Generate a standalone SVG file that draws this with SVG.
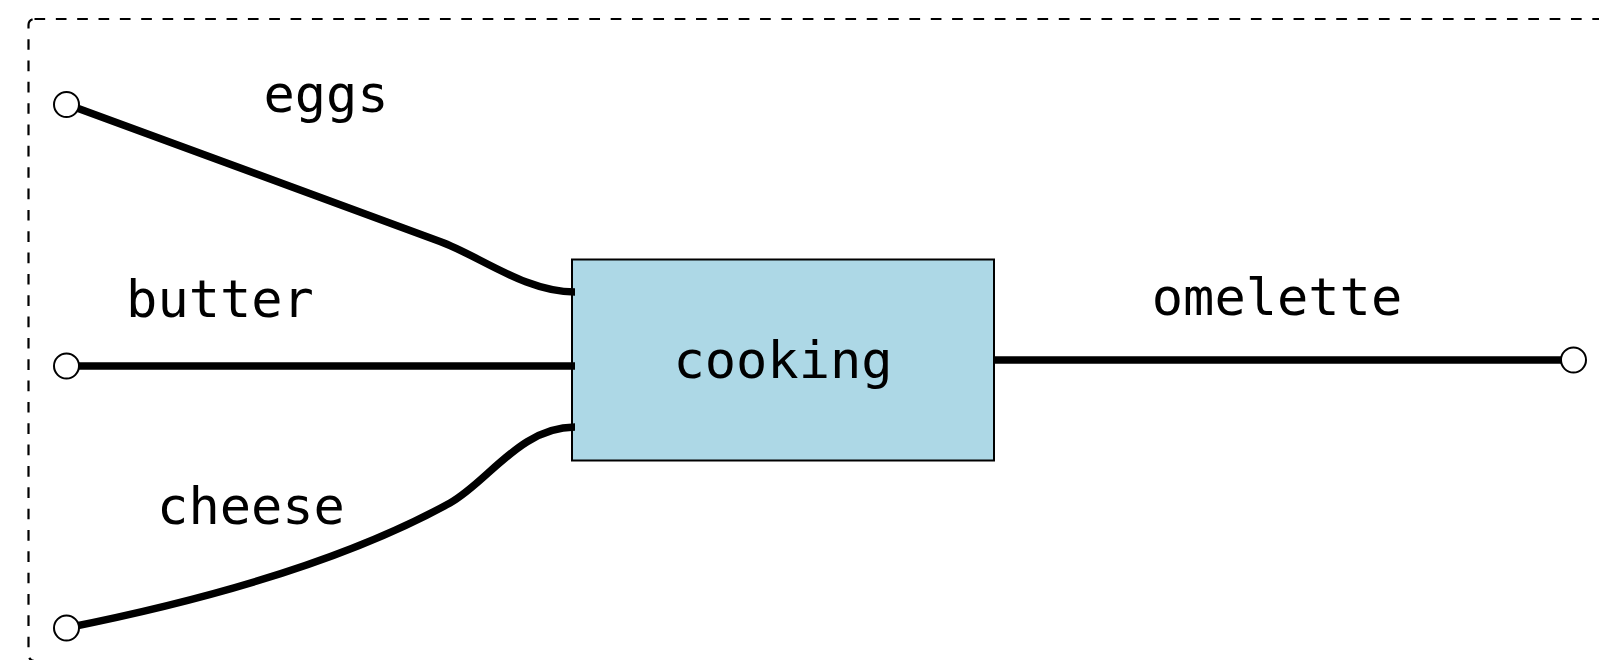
<svg xmlns="http://www.w3.org/2000/svg" width="1599" height="660" viewBox="0 0 1599 660">
  <style>
    .frame { fill: none; stroke: #000; stroke-width: 2.2; stroke-dasharray: 10.67 10.67; }
    .wire { fill: none; stroke: #000; stroke-width: 7.5; }
    .port { fill: #fff; stroke: #000; stroke-width: 2; }
    .box { fill: #add8e6; stroke: #000; stroke-width: 2; }
    .label { font-family: "DejaVu Sans Mono", "Liberation Mono", monospace; font-size: 52px; fill: #000; text-anchor: middle; }
  </style>
  <rect width="1599" height="660" fill="#fff"/>

  <!-- outer dashed boundary -->
  <rect class="frame" x="28.5" y="19" width="1600" height="642" rx="6"/>

  <!-- process node (drawn first so wire stubs sit on its edge) -->
  <g id="node-cooking">
    <rect class="box" x="572" y="259.5" width="422" height="201"/>
    <text class="label" x="783" y="378">cooking</text>
  </g>

  <!-- connectors -->
  <g id="connectors">
    <path class="wire" d="M66,104 L440,241.5 C480,256 525,292 575,292"/>
    <path class="wire" d="M66,628 Q312,579 450,503 C488,482 520,427 575,427"/>
    <path class="wire" d="M66,366 L575,366"/>
    <path class="wire" d="M994,360 L1573,360"/>
  </g>

  <!-- boundary ports -->
  <g id="port-eggs">
    <circle class="port" cx="66.5" cy="104.5" r="12.5"/>
    <text class="label" x="326" y="112">eggs</text>
  </g>
  <g id="port-butter">
    <circle class="port" cx="66.5" cy="366" r="12.5"/>
    <text class="label" x="220" y="317">butter</text>
  </g>
  <g id="port-cheese">
    <circle class="port" cx="66.5" cy="628" r="12.5"/>
    <text class="label" x="251" y="524">cheese</text>
  </g>
  <g id="port-omelette">
    <circle class="port" cx="1573.5" cy="360" r="12.5"/>
    <text class="label" x="1277" y="315">omelette</text>
  </g>
</svg>
